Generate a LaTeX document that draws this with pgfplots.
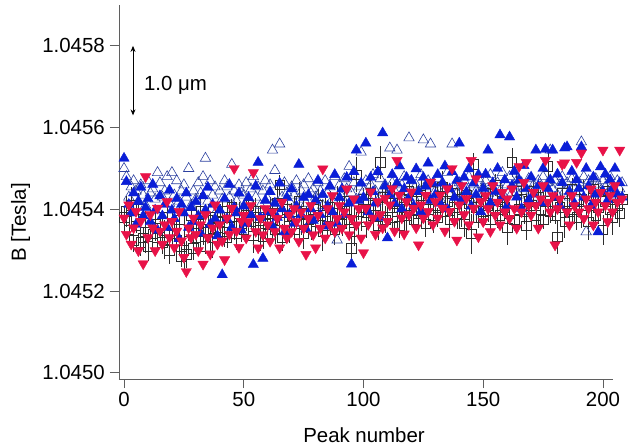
\documentclass[border=0pt]{standalone}
\usepackage{fontspec}
\setmainfont{Liberation Sans}
\usepackage{pgfplots}
\usepackage{pgfplotstable}
\pgfplotsset{compat=1.18}
\usetikzlibrary{arrows.meta}
\definecolor{bfill}{RGB}{10,30,215}
\definecolor{bopen}{RGB}{45,65,160}
\definecolor{rdc}{RGB}{232,18,72}
\definecolor{sqc}{RGB}{45,45,45}
\definecolor{axc}{RGB}{95,95,95}
\newcommand\ff{\fontsize{20.5}{24}\selectfont}
% columns: peak, squares, error, open triangles, filled triangles, red triangles
% y values: (B - 1.0450 T) in microtesla
\pgfplotstableread{
x sq err bo bf rd
0 380 27 500 525 379
1 395 37 480 468 339
2 350 21 430 412 411
3 410 45 455 391 315
4 325 30 470 440 355
5 360 18 445 363 395
6 400 40 420 419 299
7 320 33 460 454 371
8 330 24 435 384 267
9 345 52 410 405 480
10 310 36 470 426 331
11 380 22 440 370 387
12 340 31 450 461 355
13 365 42 425 398 299
14 330 19 490 349 403
15 355 39 465 433 347
16 320 28 430 384 315
17 326 48 445 412 363
18 380 25 480 356 419
19 300 34 415 447 331
20 360 43 490 398 371
21 340 21 435 377 307
22 325 30 470 426 347
23 375 37 420 328 395
24 285 27 445 412 323
25 300 46 460 391 283
26 290 33 430 440 248
27 345 22 500 356 355
28 385 40 410 405 331
29 305 28 445 370 379
30 330 36 425 419 339
31 365 24 465 384 299
32 395 45 440 342 363
33 345 31 480 433 266
34 310 19 525 398 387
35 375 39 420 454 331
36 350 27 470 363 291
37 330 49 435 412 355
38 380 33 455 377 411
39 355 22 400 335 315
40 370 42 445 398 363
41 395 30 425 240 323
42 345 36 470 426 277
43 330 25 455 377 379
44 380 43 430 461 339
45 405 21 510 356 403
46 360 34 445 405 500
47 340 40 420 391 347
48 390 28 460 440 307
49 365 46 440 349 371
50 350 24 435 408 386
51 385 37 465 366 330
52 410 31 420 429 370
53 370 19 450 387 410
54 335 42 480 265 490
55 395 33 430 457 346
56 380 27 455 515 306
57 350 51 410 380 378
58 333 30 445 280 338
59 365 36 470 422 402
60 340 22 425 394 362
61 390 40 460 443 322
62 375 28 545 359 394
63 350 34 495 415 346
64 415 45 415 380 378
65 460 24 560 464 306
66 330 33 430 401 418
67 370 39 465 345 354
68 400 21 440 429 330
69 360 43 420 387 386
70 385 31 455 450 346
71 350 25 435 366 402
72 395 37 470 408 370
73 420 48 425 510 322
74 365 27 445 387 394
75 340 36 460 429 354
76 390 19 415 352 290
77 375 42 475 436 378
78 355 30 440 401 410
79 400 34 450 373 338
80 370 24 430 422 306
81 410 40 465 471 386
82 385 28 445 387 354
83 345 46 410 436 499
84 395 33 470 359 330
85 360 22 440 408 402
86 405 39 455 457 362
87 380 27 425 394 434
88 350 36 480 485 346
89 415 43 325 366 378
90 390 21 460 429 410
91 365 31 430 450 354
92 420 37 475 387 394
93 400 25 450 478 450
94 375 49 505 415 338
95 305 30 440 266 378
96 345 34 465 492 426
97 485 42 425 545 362
98 395 22 455 422 402
99 380 33 540 464 330
100 425 28 445 429 294
101 370 39 470 562 403
102 400 19 430 394 363
103 440 45 460 478 443
104 385 31 485 443 379
105 410 25 445 415 339
106 360 36 420 492 419
107 515 40 475 380 387
108 430 24 450 587 355
109 375 33 460 457 427
110 405 43 435 330 371
111 440 27 550 436 411
112 380 37 465 485 451
113 415 21 445 415 347
114 395 46 545 464 520
115 360 30 425 506 435
116 425 34 460 401 379
117 405 25 480 450 340
118 385 40 440 478 419
119 445 28 575 429 387
120 400 36 470 471 443
121 375 22 430 408 403
122 420 42 460 499 355
123 390 31 445 443 313
124 435 48 485 394 411
125 410 27 570 478 379
126 365 33 455 457 435
127 400 39 470 513 395
128 445 19 560 422 467
129 385 43 460 464 363
130 410 30 445 436 419
131 380 24 475 485 379
132 430 36 425 415 435
133 455 40 465 464 403
134 395 28 450 506 347
135 420 34 490 401 451
136 375 45 435 450 395
137 440 22 560 492 500
138 405 31 455 429 371
139 390 37 440 471 325
140 425 27 465 562 411
141 400 42 430 422 459
142 365 33 470 478 387
143 435 21 450 443 427
144 415 39 480 499 363
145 340 49 420 408 520
146 510 28 460 464 403
147 405 36 445 436 475
148 380 25 475 485 333
149 420 43 435 394 419
150 395 31 455 451 370
151 440 22 470 486 434
152 410 40 440 545 402
153 375 30 485 416 346
154 430 34 450 465 458
155 460 27 425 444 386
156 400 46 465 500 418
157 385 24 445 582 362
158 420 37 490 430 442
159 405 33 430 472 394
160 355 42 460 409 426
161 390 21 480 577 378
162 515 36 440 458 450
163 375 28 455 493 402
164 445 45 470 430 354
165 400 25 435 472 505
166 425 39 465 402 394
167 395 31 450 507 466
168 360 34 395 451 515
169 420 22 475 423 410
170 410 43 445 479 386
171 445 27 460 437 442
172 385 37 430 545 410
173 430 30 470 458 354
174 400 48 455 416 426
175 375 24 480 500 458
176 420 33 440 547 520
177 505 40 465 451 418
178 395 28 545 472 394
179 410 36 450 545 434
180 385 21 470 430 313
181 333 42 435 486 402
182 405 31 460 409 426
183 440 25 480 465 510
184 370 39 445 550 514
185 415 34 465 553 394
186 395 45 430 444 362
187 450 27 475 493 434
188 400 37 455 416 410
189 380 30 440 472 515
190 425 22 465 451 394
191 395 40 565 553 538
192 440 33 480 430 378
193 410 28 345 500 426
194 370 46 470 458 402
195 420 24 455 409 450
196 450 36 430 479 362
197 385 31 475 437 418
198 405 42 460 345 394
199 430 25 445 504 442
200 350 37 470 444 545
201 420 30 455 486 410
202 445 34 440 423 370
203 400 27 480 472 434
204 380 43 460 451 394
205 430 21 435 500 458
206 410 39 470 437 418
207 390 33 450 465 545
208 425 28 465 430 426
}\data
\begin{document}
\begin{tikzpicture}
\useasboundingbox (-119bp,-68bp) rectangle (519bp,379bp);
\begin{axis}[at={(0,0)}, anchor=south west, scale only axis,
  width=494bp, height=374bp,
  xmin=-2.1, xmax=204.2, ymin=-15, ymax=900,
  axis x line*=bottom, axis y line*=left,
  axis line style={axc, line width=0.8bp},
  tick style={axc, line width=0.8bp},
  tick align=outside, major tick length=9bp,
  xtick={0,50,100,150,200}, ytick={0,200,400,600,800},
  yticklabels={1.0450,1.0452,1.0454,1.0456,1.0458},
  /pgf/number format/assume math mode=true,
  tick label style={font=\ff},
  xticklabel style={inner sep=0pt, yshift=-4bp},
  yticklabel style={inner sep=0pt, xshift=-5bp},
  xlabel={Peak number}, ylabel={B [Tesla]},
  label style={font=\ff},
  xlabel style={at={(axis description cs:0.496,-0.1711)}, anchor=base},
  ylabel style={at={(axis description cs:-0.1883,0.4185)}, anchor=base},
  clip=false,
]
\addplot[only marks, mark=triangle, mark size=6, mark options={draw=bopen, line width=0.6bp}]
  table[x=x, y=bo]{\data};
\addplot[only marks, mark=square, mark size=4.8, mark options={draw=sqc, line width=0.6bp},
  error bars/.cd, y dir=both, y explicit, error mark=none,
  error bar style={sqc, line width=0.6bp}]
  table[x=x, y=sq, y error=err]{\data};
\addplot[only marks, mark=triangle*, mark size=6, mark options={draw=bfill, fill=bfill}]
  table[x=x, y=bf]{\data};
\addplot[only marks, mark=triangle*, mark size=6, mark options={draw=rdc, fill=rdc, rotate=180}]
  table[x=x, y=rd]{\data};
\draw[black, line width=0.9bp, {Stealth[length=6bp,width=5bp]}-{Stealth[length=6bp,width=5bp]}]
  (axis cs:3.75,800) -- (axis cs:3.75,630);
\node[anchor=base west, font=\ff, inner sep=0pt] at (axis cs:8.3,690) {1.0 μm};
\end{axis}
\end{tikzpicture}
\end{document}
